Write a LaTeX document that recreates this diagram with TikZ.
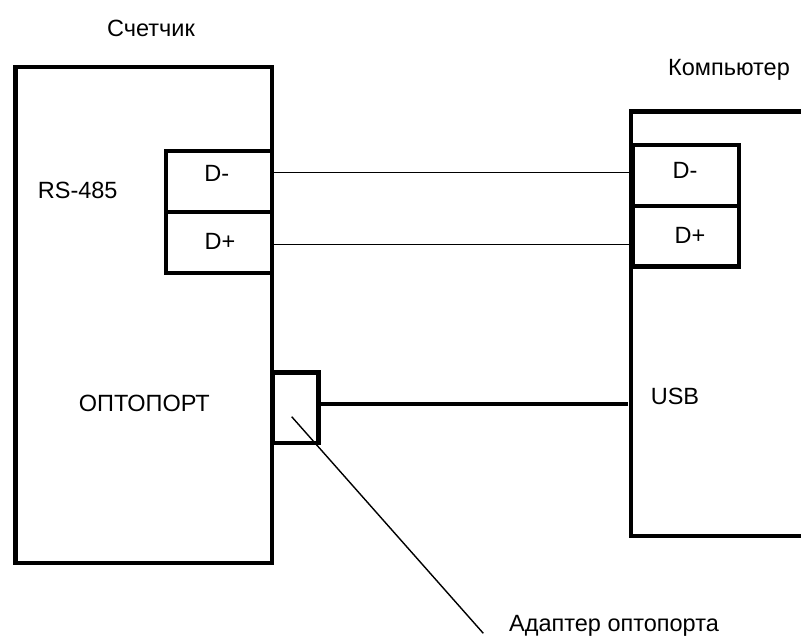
\documentclass[tikz,border=0pt]{standalone}
\usepackage{fontspec}
\setmainfont{Liberation Sans}
\begin{document}
\begin{tikzpicture}[x=1pt,y=-1pt,
  thickln/.style={line width=4.5pt},
  thinln/.style={line width=1.4pt},
  box/.style={draw,thickln,rectangle,inner sep=0pt,anchor=north west},
  lbl/.style={inner sep=0pt,anchor=base,font=\fontsize{23.5}{28}\selectfont}]
\useasboundingbox (0,0) rectangle (801,639);
% meter
\node[box,minimum width=256.7pt,minimum height=495.5pt] (meter) at (13,65) {};
\node[box,minimum width=106pt,minimum height=61pt] (dmL) at (163.7,149) {};
\node[box,minimum width=106pt,minimum height=60.7pt] (dpL) at (163.7,210) {};
\node[box,minimum width=46pt,minimum height=70.5pt] (adapt) at (270,370) {};
% computer (open on the right)
\coordinate (cTR) at (801,111.7);
\coordinate (cBR) at (801,536);
\draw[thickln,line join=miter] (cTR) -- (630.8,111.7) -- (630.8,536) -- (cBR);
\node[box,minimum width=105.9pt,minimum height=60.8pt] (dmR) at (630.8,143) {};
\node[box,minimum width=105.9pt,minimum height=60.5pt] (dpR) at (630.8,203.8) {};
\coordinate (usbIn) at (628,404);
% labels
\node[lbl] (tMeter) at (151,36.7) {Счетчик};
\node[lbl] (tComp) at (729,76) {Компьютер};
\node[lbl] (tRS) at (77.7,198.3) {RS-485};
\node[lbl] (tOpto) at (144.3,411.7) {ОПТОПОРТ};
\node[lbl] (tUSB) at (675,404) {USB};
\node[lbl] (tAd) at (614,631.7) {Адаптер оптопорта};
\node[lbl] (tDmL) at (216.7,181.7) {D-};
\node[lbl] (tDpL) at (220,250) {D+};
\node[lbl] (tDmR) at (685,178.3) {D-};
\node[lbl] (tDpR) at (690,243.3) {D+};
% connectors
\draw[thinln] (dmL.east |- 0,172.7) -- (dmR.west |- 0,172.7);
\draw[thinln] (dpL.east |- 0,244.3) -- (dpR.west |- 0,244.3);
\draw[thickln] (adapt.east |- usbIn) -- (usbIn);
\coordinate (leadA) at (291.7,416.7);
\coordinate (leadB) at (483.3,633.3);
\draw[thinln] (leadA) -- (leadB);
\end{tikzpicture}
\end{document}
